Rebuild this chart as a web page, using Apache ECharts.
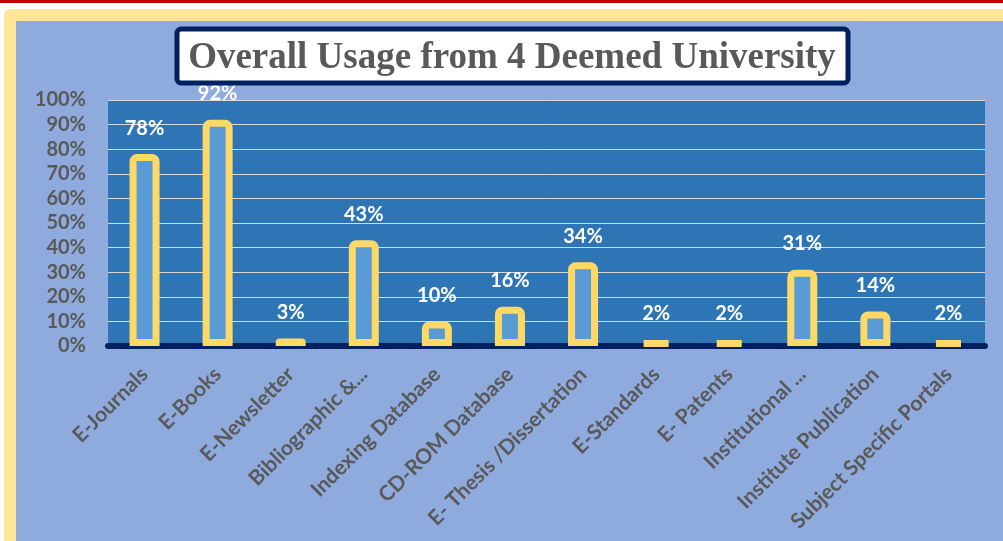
<!DOCTYPE html>
<html><head><meta charset="utf-8">
<script src="https://cdn.jsdelivr.net/npm/echarts@6/dist/echarts.min.js"></script>
<style>
html,body{margin:0;padding:0;width:1003px;height:541px;overflow:hidden;background:#fff;}
#topline{position:absolute;left:0;top:0;width:1003px;height:3px;background:#C00000;}
#frame{position:absolute;left:4px;top:9px;width:999px;height:532px;background:#FFE699;border-top-left-radius:6px;}
#inner{position:absolute;left:16px;top:21px;width:987px;height:520px;background:#8FAADC;}
#chart{position:absolute;left:0;top:0;width:1003px;height:541px;}
</style></head>
<body>
<div id="topline"></div><div id="frame"></div><div id="inner"></div>
<div id="chart"></div>
<script>
const categories = ["E-Journals","E-Books","E-Newsletter","Bibliographic &...","Indexing Database","CD-ROM Database","E- Thesis /Dissertation","E-Standards","E- Patents","Institutional ...","Institute Publication","Subject Specific Portals"];
const usage = [78, 92, 3, 43, 10, 16, 34, 2, 2, 31, 14, 2];
const titleText = "Overall Usage from 4 Deemed University";

const chart = echarts.init(document.getElementById('chart'), null, {renderer:'canvas'});
chart.setOption({
  animation:false,
  backgroundColor:'transparent',
  graphic:[
    {type:'rect', shape:{x:177,y:29,width:671,height:54,r:4}, style:{fill:'#fff',stroke:'#002060',lineWidth:5}, z:10},
    {type:'text', x:512, y:58, z:11, style:{text:titleText, fill:'#595959', font:'bold 37px "Liberation Serif"', textAlign:'center', textVerticalAlign:'middle'}}
  ],
  grid:{left:108,right:18,top:100,bottom:195,show:true,backgroundColor:'#2E75B6',borderWidth:0},
  xAxis:{type:'category',data:categories,z:0,
    axisLine:{lineStyle:{color:'#002060',width:6}},
    axisTick:{show:false},
    axisLabel:{rotate:45,interval:0,margin:25,color:'#595959',fontFamily:'Lato',fontWeight:'bold',fontSize:21}
  },
  yAxis:{type:'value',min:0,max:100,interval:10,
    axisLabel:{formatter:'{value}%',color:'#595959',fontFamily:'Lato',fontWeight:'bold',fontSize:20,margin:22},
    splitLine:{lineStyle:{color:'#D9D9D9',width:1}},
    axisLine:{show:false},axisTick:{show:false}
  },
  series:[{type:'bar',data:usage,barWidth:30,z:3,
    itemStyle:{color:'#5B9BD5',borderColor:'#FFD966',borderWidth:7,borderRadius:[4,4,0,0]},
    label:{show:true,position:'top',distance:16,formatter:'{c}%',color:'#fff',fontFamily:'Lato',fontWeight:'bold',fontSize:20}
  }]
});
</script>
</body></html>
